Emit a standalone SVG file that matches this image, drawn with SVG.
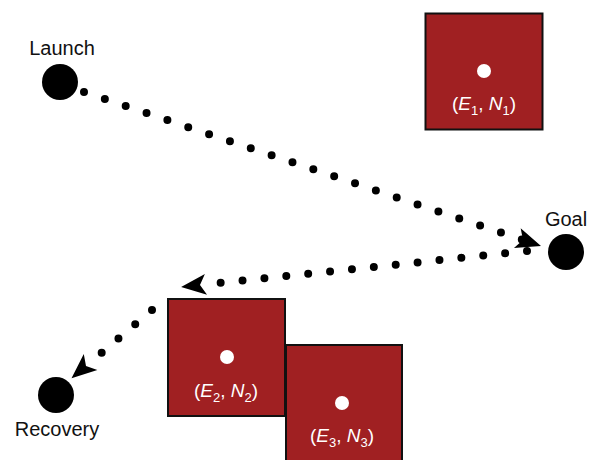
<svg xmlns="http://www.w3.org/2000/svg" width="589" height="460" viewBox="0 0 589 460">
<style>
.bg{fill:#fff}
.site{fill:#000}
.lbl{font-family:"Liberation Sans",Arial,sans-serif;font-size:20px;fill:#111;text-anchor:middle}
.box{fill:#a02022;stroke:#111;stroke-width:2}
.pt{fill:#fff}
.coord{font-family:"Liberation Sans",Arial,sans-serif;font-size:19px;fill:#fff;text-anchor:middle}
.coord .v{font-style:italic}
.path{fill:none;stroke:#000;stroke-width:8;stroke-linecap:round;stroke-dasharray:0 22}
</style>
<defs>
<marker id="arr" markerUnits="userSpaceOnUse" markerWidth="28" markerHeight="24" viewBox="-2 -12 28 24" refX="6" refY="0" orient="auto">
<path d="M25,0 L0,-10.5 L6,0 L0,10.5 Z" fill="#000"/>
</marker>
</defs>
<rect class="bg" x="0" y="0" width="589" height="460"/>
<g id="connectors">
<path class="path" d="M84,92 L523,240" marker-end="url(#arr)"/>
<path class="path" d="M527,251 L200,285" marker-end="url(#arr)"/>
<path class="path" d="M152,310 L86,366" marker-end="url(#arr)"/>
</g>
<g id="launch">
<circle class="site" cx="60" cy="82" r="18"/>
<text class="lbl" x="62" y="55">Launch</text>
</g>
<g id="goal">
<circle class="site" cx="566" cy="252" r="18"/>
<text class="lbl" x="566" y="226">Goal</text>
</g>
<g id="recovery">
<circle class="site" cx="56" cy="395" r="18"/>
<text class="lbl" x="57" y="436">Recovery</text>
</g>
<g id="zone1">
<rect class="box" x="425.5" y="13.5" width="117" height="116"/>
<circle class="pt" cx="484" cy="71" r="7"/>
<text class="coord" x="484" y="110">(<tspan class="v">E</tspan><tspan dy="5" font-size="13">1</tspan><tspan dy="-5">, </tspan><tspan class="v">N</tspan><tspan dy="5" font-size="13">1</tspan><tspan dy="-5">)</tspan></text>
</g>
<g id="zone2">
<rect class="box" x="168" y="299" width="117" height="117"/>
<circle class="pt" cx="227" cy="357" r="7"/>
<text class="coord" x="226" y="397">(<tspan class="v">E</tspan><tspan dy="5" font-size="13">2</tspan><tspan dy="-5">, </tspan><tspan class="v">N</tspan><tspan dy="5" font-size="13">2</tspan><tspan dy="-5">)</tspan></text>
</g>
<g id="zone3">
<rect class="box" x="286" y="345" width="116" height="118"/>
<circle class="pt" cx="342" cy="403" r="7"/>
<text class="coord" x="342" y="442">(<tspan class="v">E</tspan><tspan dy="5" font-size="13">3</tspan><tspan dy="-5">, </tspan><tspan class="v">N</tspan><tspan dy="5" font-size="13">3</tspan><tspan dy="-5">)</tspan></text>
</g>
</svg>
